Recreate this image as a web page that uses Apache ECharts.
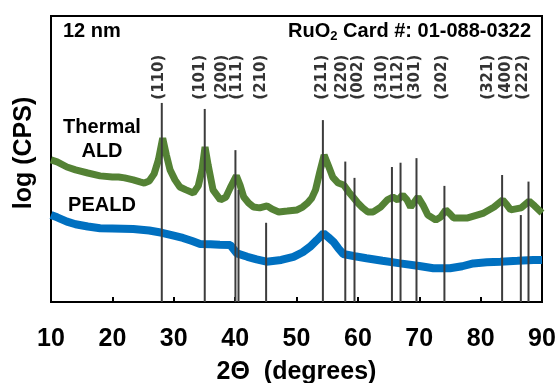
<!DOCTYPE html>
<html><head><meta charset="utf-8">
<script src="https://cdn.jsdelivr.net/npm/echarts@6/dist/echarts.min.js"></script>
<style>html,body{margin:0;padding:0;background:#fff}#c{width:558px;height:383px}</style>
</head><body><div id="c"></div>
<script>
// Thermal ALD curve (2θ, log CPS arbitrary units)
const thermalX = [10,11,12.6,14,16,18,20,21,22,23.4,24.5,25.2,26,26.8,27.5,28.2,28.8,29.4,30.2,31,32,33.2,34,34.6,35.1,35.6,36.4,37.6,38.5,39.2,40.2,40.8,41.4,42.2,43,44,45.2,46,47.1,48.5,50.1,51,51.8,52.5,53.1,53.8,54.5,55.2,55.9,56.8,57.7,58.5,59.2,60,60.8,61.6,62.5,63.7,64.8,65.7,66.5,67.3,68,68.6,69.8,70.6,71.4,72.7,73.5,74.3,75,75.6,77.9,80.5,82.2,83.6,84.3,84.9,86.6,87.9,88.8,90];
const thermalY = [49.7,49.0,47.2,46.2,45.1,44.1,43.7,43.7,43.4,42.7,42.0,41.6,42.3,44.8,49.7,57.3,51.4,46.2,42.7,40.2,39.2,38.1,40.6,46.2,54.2,47.9,39.2,35.7,36.7,39.9,44.1,40.9,36.7,34.6,33.2,32.9,33.6,32.5,31.5,31.8,32.2,33.2,34.6,36.4,39.2,45.5,51.4,47.6,43.7,41.6,40.9,38.5,36.7,34.6,32.9,31.5,31.5,33.2,35.7,36.7,35.7,37.4,35.7,33.2,36.7,33.9,30.4,28.7,29.7,32.2,30.8,29.4,29.4,31.1,33.2,35.7,33.9,32.2,32.9,35.3,33.6,31.1];
// PEALD curve
const pealdX = [10,11,12.6,14,16,18,20,23.4,26,28.1,30,31.5,33,34.3,36,37.5,39.2,40.3,42,43.5,45.1,47.5,49.5,51,52.2,53.3,54.4,55.2,56,56.8,57.6,59.5,61.4,64,66.9,70,72.3,75,77,78.8,81,83.2,86,88.6,90];
const pealdY = [30.4,29.6,28.1,27.2,26.4,25.8,25.7,25.5,25.0,24.2,23.2,22.4,21.3,20.3,20.2,20.0,19.9,17.0,15.8,14.9,14.1,14.7,15.8,17.4,19.3,21.6,24.0,22.6,21.1,18.8,16.8,16.0,15.3,14.4,13.5,12.6,11.8,11.8,12.5,13.5,13.9,14.1,14.4,14.7,14.7];
// RuO2 reference card (01-088-0322): peak positions, relative heights, hkl
const cardX = [28.05,35.05,40.05,40.55,45.05,54.3,57.95,59.45,65.55,66.95,69.55,74.1,83.5,86.55,87.8];
const cardH = [69.6,67.5,53.1,39.2,27.7,63.6,49.1,43.4,47.2,48.7,50.3,40.6,44.4,30.4,42.1];
const cardHKL = ['(110)','(101)','(200)','(111)','(210)','(211)','(220)','(002)','(310)','(112)','(301)','(202)','(321)','(400)','(222)'];
const hklLabelX = [27.6,34.3,37.8,40.3,44.2,54.1,57.4,60.1,63.9,66.6,69.3,73.7,81.3,84.2,87.0];
const hklLabelY = 78.6;
const xTicks = [10,20,30,40,50,60,70,80,90];

const chart = echarts.init(document.getElementById('c'), null, {renderer:'canvas'});
const bold = 'Liberation Sans, Arial, sans-serif';
chart.setOption({
  animation:false,
  grid:{left:51,right:16,top:16,bottom:81,containLabel:false,outerBoundsMode:'none',show:true,borderColor:'#000',borderWidth:2},
  xAxis:{type:'value',min:xTicks[0],max:xTicks[xTicks.length-1],interval:10,
    axisLine:{show:true,lineStyle:{color:'#000',width:2}},
    axisTick:{show:true,inside:true,length:5,lineStyle:{color:'#000',width:2}},
    splitLine:{show:false},
    axisLabel:{color:'#000',fontSize:25,fontWeight:'bold',fontFamily:bold,margin:25},
    name:'2\u0398  (degrees)',nameLocation:'middle',nameGap:58,
    nameTextStyle:{color:'#000',fontSize:25,fontWeight:'bold',fontFamily:bold}},
  yAxis:{type:'value',min:0,max:100,
    axisLine:{show:true,lineStyle:{color:'#000',width:2}},
    axisTick:{show:false},axisLabel:{show:false},splitLine:{show:false},
    name:'log (CPS)',nameLocation:'middle',nameGap:14,
    nameTextStyle:{color:'#000',fontSize:25,fontWeight:'bold',fontFamily:bold,padding:[0,0,0,12]}},
  series:[
    {type:'line',data:thermalX.map((x,i)=>[x,thermalY[i]]),showSymbol:false,
      lineStyle:{color:'#548235',width:7},itemStyle:{color:'#548235'},z:2},
    {type:'line',data:pealdX.map((x,i)=>[x,pealdY[i]]),showSymbol:false,
      lineStyle:{color:'#0070C0',width:8},itemStyle:{color:'#0070C0'},z:2},
    {type:'bar',data:cardX.map((x,i)=>[x,cardH[i]]),barWidth:2,
      itemStyle:{color:'#3c3c3c'},z:3},
    {type:'scatter',symbolSize:2,itemStyle:{color:'rgba(0,0,0,0)'},data:hklLabelX.map((x,i)=>({value:[x,hklLabelY],name:cardHKL[i]})),
      label:{show:true,position:'inside',rotate:90,formatter:p=>p.name,color:'#000',
        fontSize:15,fontWeight:'bold',fontFamily:'DejaVu Sans',align:'center',verticalAlign:'middle'},z:4}
  ],
  graphic:[
    {type:'text',left:63,top:21,style:{text:'12 nm',font:'bold 20px '+bold,fill:'#000'}},
    {type:'text',right:27,top:21,style:{text:'{a|RuO}{s|2}{a| Card #: 01-088-0322}',
      rich:{a:{font:'bold 20px '+bold,fill:'#000'},s:{font:'bold 13px '+bold,fill:'#000',padding:[10,0,0,0]}}}},
    {type:'text',style:{x:102,y:139,text:'Thermal\nALD',font:'bold 20px '+bold,fill:'#000',align:'center',verticalAlign:'middle',lineHeight:24}},
    {type:'text',style:{x:102,y:205,text:'PEALD',font:'bold 20px '+bold,fill:'#000',align:'center',verticalAlign:'middle'}}
  ]
});
</script></body></html>
